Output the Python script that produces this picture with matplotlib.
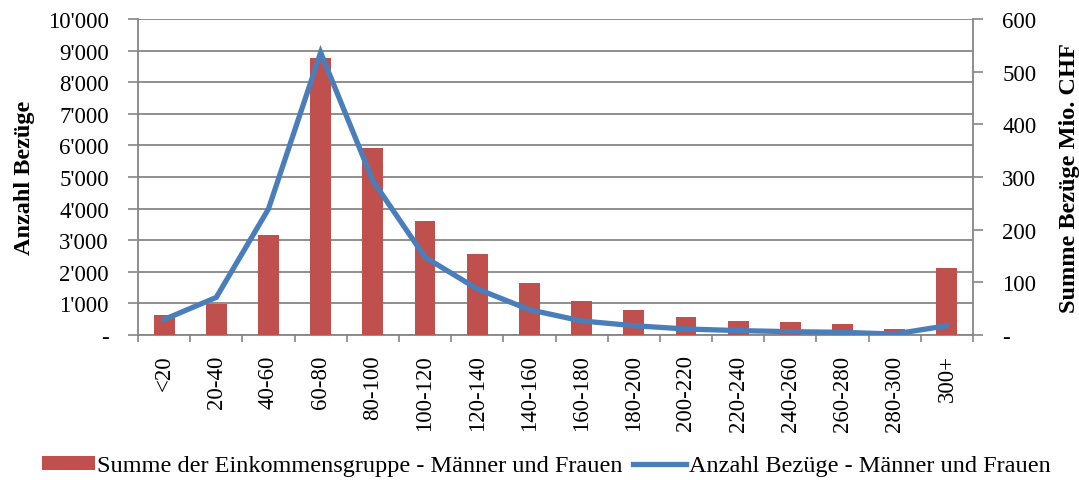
import numpy as np
import matplotlib
matplotlib.use('Agg')
import matplotlib.pyplot as plt
from matplotlib.ticker import FuncFormatter

# income groups (thousand CHF)
categories = ['<20', '20-40', '40-60', '60-80', '80-100', '100-120', '120-140', '140-160',
              '160-180', '180-200', '200-220', '220-240', '240-260', '260-280', '280-300', '300+']
# bars: Summe der Einkommensgruppe (Mio. CHF, right axis)
summe_mio = [38, 58, 190, 525, 356, 216, 153, 99, 65, 47, 34, 27, 25, 21.5, 11, 128]
# line: Anzahl Bezüge (left axis)
anzahl = [490, 1190, 3990, 8940, 4880, 2460, 1460, 800, 445, 295, 190, 140, 105, 85, 30, 295]

left_ticks = np.arange(0, 10001, 1000)
right_ticks = np.arange(0, 601, 100)

bar_color = '#C0504D'
line_color = '#4A7EBB'
grid_color = '#868686'

plt.rcParams['font.family'] = ['Liberation Serif', 'DejaVu Serif']
plt.rcParams['font.size'] = 16.5

fig = plt.figure(figsize=(10.79, 4.81), dpi=100)
ax = fig.add_axes([138 / 1079, 1 - 336 / 481, (973 - 138) / 1079, (336 - 20) / 481])
ax2 = ax.twinx()
ax3 = ax.twinx()

x = np.arange(len(categories))

# left axis: grid + ticks
ax.set_xlim(-0.5, len(categories) - 0.5)
ax.set_ylim(0, 10000)
ax.set_yticks(left_ticks)
ax.yaxis.set_major_formatter(FuncFormatter(
    lambda v, p: '-' if v == 0 else f'{int(v):,}'.replace(',', "'")))
ax.grid(axis='y', color=grid_color, linewidth=1.3)
ax.set_axisbelow(True)
ax.set_ylabel('Anzahl Bezüge', fontweight='bold', fontsize=17.5, labelpad=9)

ax.set_xticks(x)
ax.set_xticklabels(categories, rotation=90)
ax.set_xticks(np.arange(-0.5, len(categories)), minor=True)
ax.tick_params(axis='x', which='major', length=0, pad=14)
ax.tick_params(axis='x', which='minor', length=5, color=grid_color, width=1.2)
ax.tick_params(axis='y', length=7, color=grid_color, width=1.2, pad=14)

for s in ['top', 'right']:
    ax.spines[s].set_visible(False)
for s in ['left', 'bottom']:
    ax.spines[s].set_color(grid_color)
    ax.spines[s].set_linewidth(1.3)

# right axis: bars
bars = ax2.bar(x, summe_mio, width=0.4, color=bar_color,
               label='Summe der Einkommensgruppe - Männer und Frauen')
ax2.set_ylim(0, 600)
ax2.set_yticks(right_ticks)
ax2.yaxis.set_major_formatter(FuncFormatter(lambda v, p: '-' if v == 0 else f'{int(v)}'))
ax2.set_ylabel('Summe Bezüge Mio. CHF', fontweight='bold', fontsize=17.5, labelpad=16)
ax2.tick_params(axis='y', length=7, color=grid_color, width=1.2, pad=14)
for s in ['top', 'left', 'bottom']:
    ax2.spines[s].set_visible(False)
ax2.spines['right'].set_color(grid_color)
ax2.spines['right'].set_linewidth(1.3)

# line on top, left scale
line, = ax3.plot(x, anzahl, color=line_color, linewidth=3.8, solid_joinstyle='miter',
                 label='Anzahl Bezüge - Männer und Frauen')
ax3.set_ylim(ax.get_ylim())
ax3.axis('off')

fig.legend([bars, line], [bars.get_label(), line.get_label()], loc='center',
           bbox_to_anchor=(0.506, 1 - 467 / 481), ncol=2, frameon=False,
           fontsize=17.5, handlelength=2.2, handletextpad=0.1, columnspacing=0.4,
           handleheight=0.55, borderaxespad=0)

fig.savefig('out.png', dpi=100)
